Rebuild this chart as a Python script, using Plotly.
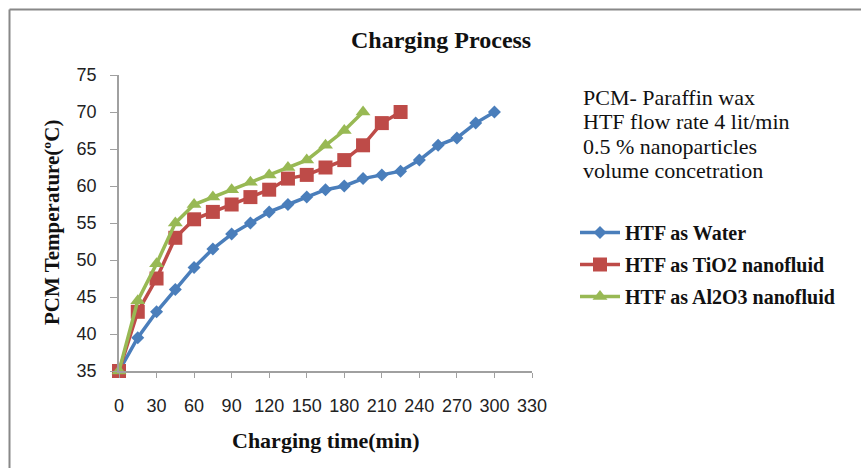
import plotly.graph_objects as go

# ---- data ----
time_water = [0, 15, 30, 45, 60, 75, 90, 105, 120, 135, 150, 165, 180, 195, 210, 225, 240, 255, 270, 285, 300]
temp_water = [35, 39.5, 43, 46, 49, 51.5, 53.5, 55, 56.5, 57.5, 58.5, 59.5, 60, 61, 61.5, 62, 63.5, 65.5, 66.5, 68.5, 70]

time_tio2 = [0, 15, 30, 45, 60, 75, 90, 105, 120, 135, 150, 165, 180, 195, 210, 225]
temp_tio2 = [35, 43, 47.5, 53, 55.5, 56.5, 57.5, 58.5, 59.5, 61, 61.5, 62.5, 63.5, 65.5, 68.5, 70]

time_al2o3 = [0, 15, 30, 45, 60, 75, 90, 105, 120, 135, 150, 165, 180, 195]
temp_al2o3 = [35, 44.5, 49.5, 55, 57.5, 58.5, 59.5, 60.5, 61.5, 62.5, 63.5, 65.5, 67.5, 70]

series_names = ["HTF as Water", "HTF as TiO2 nanofluid", "HTF as Al2O3 nanofluid"]
x_ticks = [0, 30, 60, 90, 120, 150, 180, 210, 240, 270, 300, 330]
y_ticks = [35, 40, 45, 50, 55, 60, 65, 70, 75]
note_lines = ["PCM- Paraffin wax", "HTF flow rate 4 lit/min", "0.5 % nanoparticles", "volume concetration"]

W, H = 861, 468
L, R, T, B = 119, 532, 75, 371  # plot area pixel box


def px_x(p):
    return (p - L) / (R - L)


def px_y(p):
    return (B - p) / (B - T)


fig = go.Figure()
styles = [
    ("#4A7EBB", "diamond", 10),
    ("#BE4B48", "square", 14),
    ("#98B954", "triangle-up", 13),
]
data = [(time_water, temp_water), (time_tio2, temp_tio2), (time_al2o3, temp_al2o3)]
for i, ((xs, ys), name, (col, sym, sz)) in enumerate(zip(data, series_names, styles)):
    fig.add_trace(go.Scatter(
        x=xs, y=ys, name=f"<b>{name}</b>", mode="lines+markers",
        line=dict(color=col, width=3.5),
        marker=dict(symbol=sym, size=sz, color=col),
        cliponaxis=False, legendgroup=f"g{i}",
    ))

axis_col = "#A0A0A0"
fig.update_xaxes(
    range=[0, 330], tickvals=x_ticks, ticktext=[str(v) for v in x_ticks],
    showgrid=False, zeroline=False, showline=True, linecolor=axis_col, linewidth=1.5,
    ticks="outside", ticklen=5, tickcolor=axis_col, tickwidth=1,
    tickfont=dict(family="Liberation Sans", size=18, color="#222"),
    ticklabelstandoff=13,
)
fig.update_yaxes(
    range=[35, 75], tickvals=y_ticks, ticktext=[str(v) for v in y_ticks],
    showgrid=False, zeroline=False, showline=True, linecolor=axis_col, linewidth=1.5,
    ticks="outside", ticklen=7, tickcolor=axis_col, tickwidth=1,
    tickfont=dict(family="Liberation Sans", size=18, color="#222"),
    ticklabelstandoff=10,
)

annotations = [
    dict(text="<b>Charging Process</b>", x=px_x(441), y=px_y(40), xref="paper", yref="paper",
         showarrow=False, xanchor="center", yanchor="middle",
         font=dict(family="Liberation Serif", size=24, color="#111")),
    dict(text="<b>Charging time(min)</b>", x=px_x(326), y=px_y(440), xref="paper", yref="paper",
         showarrow=False, xanchor="center", yanchor="middle",
         font=dict(family="Liberation Serif", size=22, color="#111")),
    dict(text="<b>PCM Temperature(ºC)</b>", x=px_x(52), y=px_y(223), xref="paper", yref="paper",
         showarrow=False, xanchor="center", yanchor="middle", textangle=-90,
         font=dict(family="Liberation Serif", size=21, color="#111")),
]
for line, yc in zip(note_lines, [97.5, 121.7, 146, 170]):
    annotations.append(dict(text=line, x=px_x(581), y=px_y(yc), xref="paper", yref="paper",
                            showarrow=False, xanchor="left", yanchor="middle",
                            font=dict(family="Liberation Serif", size=22, color="#111")))

shapes = [
    dict(type="line", xref="paper", yref="paper", x0=px_x(9.5), x1=px_x(W + 5),
         y0=px_y(9.5), y1=px_y(9.5), line=dict(color="#888888", width=2)),
    dict(type="line", xref="paper", yref="paper", x0=px_x(9.5), x1=px_x(9.5),
         y0=px_y(9.5), y1=px_y(H + 5), line=dict(color="#888888", width=2)),
]

fig.update_layout(
    width=W, height=H,
    margin=dict(l=L, r=W - R, t=T, b=H - B),
    paper_bgcolor="white", plot_bgcolor="white",
    showlegend=True,
    legend=dict(x=px_x(575), y=px_y(213), xanchor="left", yanchor="top",
                traceorder="grouped", tracegroupgap=3,
                font=dict(family="Liberation Serif", size=20, color="#111"),
                bgcolor="rgba(0,0,0,0)", itemwidth=40),
    annotations=annotations,
    shapes=shapes,
)

fig.write_html("out.html")
